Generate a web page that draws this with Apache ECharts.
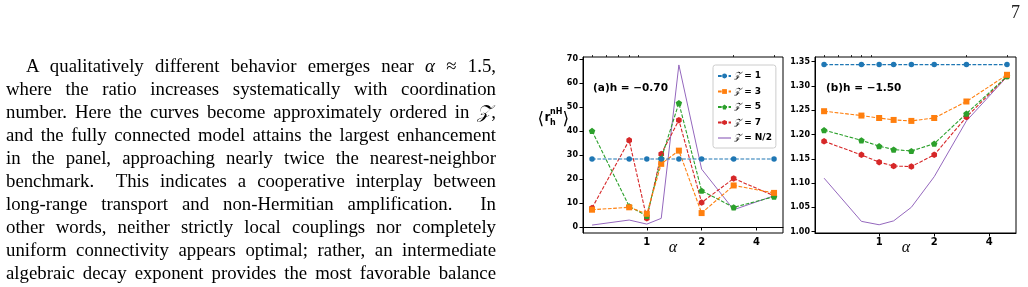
<!DOCTYPE html>
<html>
<head>
<meta charset="utf-8">
<script src="https://cdn.jsdelivr.net/npm/echarts@6/dist/echarts.min.js"></script>
<style>
  html, body { margin:0; padding:0; background:#fff; }
  #wrap { position:relative; width:1028px; height:287px; overflow:hidden; }
  #chart { position:absolute; left:0; top:0; width:1028px; height:287px; }
  #para { position:absolute; left:6px; top:54px; width:490px; font-family:"Liberation Serif","DejaVu Serif",serif; font-size:18.8px; color:#000; pointer-events:none; }
  #para div { height:23px; line-height:23px; text-align:justify; text-align-last:justify; }
  #para div.ind { padding-left:20px; }
  #pnum { position:absolute; left:1011px; top:2px; font-family:"Liberation Serif",serif; font-size:18px; color:#222; }
</style>
</head>
<body>
<div id="wrap">
  <div id="chart"></div>
  <div id="para"></div>
  <div id="pnum">7</div>
</div>
<script>
// ---- paragraph text ----
const paraLines = [
  'A qualitatively different behavior emerges near <i>α</i> ≈ 1.5,',
  'where the ratio increases systematically with coordination',
  'number. Here the curves become approximately ordered in <i>𝒵</i>,',
  'and the fully connected model attains the largest enhancement',
  'in the panel, approaching nearly twice the nearest-neighbor',
  'benchmark.&nbsp; This indicates a cooperative interplay between',
  'long-range transport and non-Hermitian amplification.&nbsp; In',
  'other words, neither strictly local couplings nor completely',
  'uniform connectivity appears optimal; rather, an intermediate',
  'algebraic decay exponent provides the most favorable balance'
];
document.getElementById('para').innerHTML =
  paraLines.map((l, i) => '<div' + (i === 0 ? ' class="ind"' : '') + '>' + l + '</div>').join('');

// ---- chart data ----
const alpha = [0.5, 0.8, 1.0, 1.2, 1.5, 2.0, 3.0, 5.0];
const seriesNames = ['𝒵=1', '𝒵=3', '𝒵=5', '𝒵=7', '𝒵=N/2'];

// panel (a): h = -0.70
const a_z1 = [28.3, 28.3, 28.3, 28.3, 28.3, 28.3, 28.3, 28.3];
const a_z3 = [7.2, 8.2, 5.5, 26.3, 31.8, 5.8, 17.3, 14.2];
const a_z5 = [40.0, 8.6, 4.6, 28.5, 51.6, 15.1, 8.2, 12.6];
const a_z7 = [7.9, 36.1, 3.6, 30.4, 44.5, 10.2, 20.2, 13.0];
const a_zN = [0.8, 2.9, 1.2, 3.6, 67.5, 24.1, 7.2, 13.0];

// panel (b): h = -1.50
const b_z1 = [1.344, 1.344, 1.344, 1.344, 1.344, 1.344, 1.344, 1.344];
const b_z3 = [1.248, 1.239, 1.234, 1.230, 1.228, 1.234, 1.268, 1.323];
const b_z5 = [1.209, 1.188, 1.176, 1.169, 1.166, 1.181, 1.243, 1.320];
const b_z7 = [1.186, 1.158, 1.143, 1.135, 1.134, 1.158, 1.236, 1.320];
const b_zN = [1.110, 1.021, 1.014, 1.022, 1.050, 1.113, 1.228, 1.319];

const xMajorTicks = [1, 2, 4];
const xMinorTicks = [0.5, 0.6, 0.7, 0.8, 0.9, 3, 5];
const aYTicks = [0, 10, 20, 30, 40, 50, 60, 70];
const bYTicks = [1.00, 1.05, 1.10, 1.15, 1.20, 1.25, 1.30, 1.35];

// ---- styles ----
const colors = ['#1f77b4', '#ff7f0e', '#2ca02c', '#d62728', '#9467bd'];
const pentagon = 'path://M0,-1L0.951,-0.309L0.588,0.809L-0.588,0.809L-0.951,-0.309Z';
const hexagon = 'path://M0,-1L0.866,-0.5L0.866,0.5L0,1L-0.866,0.5L-0.866,-0.5Z';
const symbols = ['circle', 'rect', pentagon, hexagon, 'none'];
const symSizes = [5.5, 6, 6.5, 6.5, 0];
const dash = [3.7, 1.6];
const tickFont = 'DejaVu Sans';

function mkSeries(vals, k, xi, yi) {
  const isN = k === 4;
  return {
    name: seriesNames[k], type: 'line', xAxisIndex: xi, yAxisIndex: yi,
    data: alpha.map((a, i) => [a, vals[i]]),
    symbol: symbols[k], symbolSize: symSizes[k], symbolKeepAspect: true,
    showSymbol: !isN,
    lineStyle: { color: colors[k], width: isN ? 1 : 1.1, type: isN ? 'solid' : dash },
    itemStyle: { color: colors[k], borderWidth: 0 },
    z: 10 - k, animation: false, silent: true
  };
}

const aSets = [a_z1, a_z3, a_z5, a_z7, a_zN];
const bSets = [b_z1, b_z3, b_z5, b_z7, b_zN];
const series = [];
aSets.forEach((v, k) => series.push(mkSeries(v, k, 0, 0)));
bSets.forEach((v, k) => series.push(mkSeries(v, k, 2, 1)));

function xMajor(g) {
  return {
    type: 'log', logBase: 10, gridIndex: g, min: 0.446, max: 5.6,
    axisLine: { show: true, lineStyle: { color: '#000', width: 1 } },
    axisTick: { show: true, length: 3.5, customValues: xMajorTicks, lineStyle: { color: '#000', width: 1 } },
    axisLabel: { customValues: xMajorTicks, fontSize: 10, fontWeight: 'bold', fontFamily: tickFont, color: '#000', margin: 4 },
    splitLine: { show: false }, minorTick: { show: false }
  };
}
function xMinor(g) {
  return {
    type: 'log', logBase: 10, gridIndex: g, min: 0.446, max: 5.6,
    axisLine: { show: false },
    axisTick: { show: true, length: 2, customValues: xMinorTicks, lineStyle: { color: '#000', width: 0.8 } },
    axisLabel: { show: false }, splitLine: { show: false }
  };
}
function yAx(g, min, max, ticks, fmt) {
  return {
    type: 'value', gridIndex: g, min: min, max: max,
    axisLine: { show: true, lineStyle: { color: '#000', width: 1 } },
    axisTick: { show: true, length: 3.5, customValues: ticks, lineStyle: { color: '#000', width: 1 } },
    axisLabel: { customValues: ticks, formatter: fmt, fontSize: 8, fontWeight: 'bold', fontFamily: tickFont, color: '#000', margin: 5 },
    splitLine: { show: false }
  };
}

const legendRich = {
  z: { fontFamily: 'DejaVu Serif', fontStyle: 'italic', fontSize: 9, color: '#000', lineHeight: 10 },
  t: { fontFamily: tickFont, fontWeight: 'bold', fontSize: 9, color: '#000', lineHeight: 10 }
};

function txt(x, y, text, opts) {
  return Object.assign({ type: 'text', x: x, y: y, silent: true,
    style: Object.assign({ text: text, fill: '#000', font: 'bold 10px "DejaVu Sans"', textVerticalAlign: 'middle' }, opts || {}) });
}

const legendData = seriesNames.map((n, k) => k === 4
  ? { name: n, icon: 'path://M0,0L12,0L12,1.1L0,1.1Z', itemStyle: { color: colors[4] } }
  : { name: n });

const option = {
  animation: false,
  grid: [
    { left: 583, top: 57, width: 200, height: 176, show: true, borderColor: '#000', borderWidth: 1, backgroundColor: 'transparent' },
    { left: 815, top: 57, width: 201, height: 176, show: true, borderColor: '#000', borderWidth: 1, backgroundColor: 'transparent' }
  ],
  xAxis: [xMajor(0), xMinor(0), xMajor(1), xMinor(1)],
  yAxis: [
    yAx(0, -2.5, 70.8, aYTicks, v => String(v)),
    yAx(1, 0.997, 1.3597, bYTicks, v => v.toFixed(2))
  ],
  legend: {
    data: legendData, orient: 'vertical', left: 713, top: 65,
    itemWidth: 13, itemHeight: 6, itemGap: 5.5, padding: [6, 4, 5, 4],
    borderColor: '#ccc', borderWidth: 1, borderRadius: 2.5, backgroundColor: 'rgba(255,255,255,0.8)',
    selectedMode: false, symbolKeepAspect: true,
    formatter: n => '{z|' + n.slice(0, 2) + '}{t| = ' + n.slice(3) + '}',
    textStyle: { rich: legendRich, padding: [0, 0, 0, -2], lineHeight: 10 }
  },
  series: series,
  graphic: [
    txt(593, 88, '(a)h = −0.70', { font: 'bold 10.5px "DejaVu Sans"' }),
    txt(826, 88.5, '(b)h = −1.50', { font: 'bold 10.5px "DejaVu Sans"' }),
    txt(673, 248, 'α', { font: 'italic 16px "Liberation Serif"', textAlign: 'center' }),
    txt(906, 248, 'α', { font: 'italic 16px "Liberation Serif"', textAlign: 'center' }),
    txt(537.5, 120, '⟨', { font: '17px "DejaVu Sans"' }),
    txt(544.5, 118, 'r', { font: 'bold 12px "DejaVu Sans"' }),
    txt(550, 112, 'nH', { font: 'bold 8px "DejaVu Sans"' }),
    txt(550, 122.5, 'h', { font: 'bold 8px "DejaVu Sans"' }),
    txt(562.5, 120, '⟩', { font: '17px "DejaVu Sans"' })
  ]
};

const chart = echarts.init(document.getElementById('chart'), null, { renderer: 'canvas' });
chart.setOption(option);
</script>
</body>
</html>
